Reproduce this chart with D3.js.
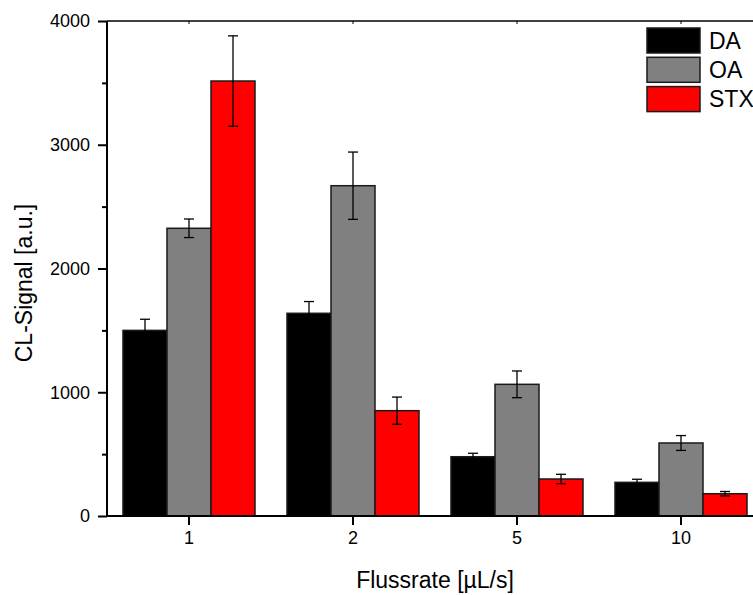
<!DOCTYPE html>
<html>
<head>
<meta charset="utf-8">
<script src="https://cdn.jsdelivr.net/npm/d3@7"></script>
<style>
  body { margin: 0; background: #fff; }
  svg text { font-family: "Liberation Sans", Arial, sans-serif; fill: #000; }
</style>
</head>
<body>
<script>
// data
var categories = ["1", "2", "5", "10"];
var series = ["DA", "OA", "STX"];
var colors = ["#000000", "#808080", "#ff0000"];
var valuesDA = [1500, 1638, 479, 272];
var valuesOA = [2325, 2669, 1064, 590];
var valuesSTX = [3515, 851, 299, 180];
var errorsDA = [90, 95, 28, 25];
var errorsOA = [75, 272, 108, 60];
var errorsSTX = [365, 110, 38, 18];
var yTicks = [0, 1000, 2000, 3000, 4000];
var yMinorTicks = [500, 1500, 2500, 3500];

var values = [valuesDA, valuesOA, valuesSTX];
var errors = [errorsDA, errorsOA, errorsSTX];

// set the dimensions of the graph
var width = 753, height = 595;
var plotLeft = 107, plotRight = 763, plotTop = 21, plotBottom = 516;

var svg = d3.select("body").append("svg")
    .attr("width", width)
    .attr("height", height);

// set the ranges
var x0 = d3.scaleBand().domain(categories).range([plotLeft, plotRight])
    .paddingInner(0.195).paddingOuter(0.0975);
var x1 = d3.scaleBand().domain(series).range([0, x0.bandwidth()]);
var y = d3.scaleLinear().domain([0, 4000]).range([plotBottom, plotTop]);

// flatten into rows for drawing
var rows = [];
categories.forEach(function(c, i) {
  series.forEach(function(s, j) {
    rows.push({cat: c, ser: s, idx: j, value: values[j][i], err: errors[j][i]});
  });
});

// bars
svg.append("g").selectAll("rect")
    .data(rows)
  .enter().append("rect")
    .attr("x", function(d) { return x0(d.cat) + x1(d.ser); })
    .attr("y", function(d) { return y(d.value); })
    .attr("width", x1.bandwidth())
    .attr("height", function(d) { return y(0) - y(d.value); })
    .attr("fill", function(d) { return colors[d.idx]; })
    .attr("stroke", "#1a1a1a")
    .attr("stroke-width", 1.5);

// error bars
var eb = svg.append("g").attr("stroke", "#000").attr("stroke-width", 1.3);
rows.forEach(function(d) {
  var cx = x0(d.cat) + x1(d.ser) + x1.bandwidth() / 2;
  var y1 = y(d.value + d.err), y2 = y(d.value - d.err);
  eb.append("line").attr("x1", cx).attr("x2", cx).attr("y1", y1).attr("y2", y2);
  eb.append("line").attr("x1", cx - 5).attr("x2", cx + 5).attr("y1", y1).attr("y2", y1);
  eb.append("line").attr("x1", cx - 5).attr("x2", cx + 5).attr("y1", y2).attr("y2", y2);
});

// y axis
var yAxis = svg.append("g")
    .attr("transform", "translate(" + plotLeft + ",0)")
    .call(d3.axisLeft(y).tickValues(yTicks).tickSize(9).tickPadding(8).tickFormat(d3.format("d")));
yAxis.select(".domain").remove();
yAxis.selectAll(".tick line").attr("stroke-width", 2);
yAxis.selectAll("text").style("font-size", "18px");

svg.append("g")
    .attr("transform", "translate(" + plotLeft + ",0)")
    .call(d3.axisLeft(y).tickValues(yMinorTicks).tickSize(5).tickFormat(""))
  .call(function(g) { g.select(".domain").remove(); })
  .selectAll(".tick line").attr("stroke-width", 2);

// x axis
var xAxis = svg.append("g")
    .attr("transform", "translate(0," + plotBottom + ")")
    .call(d3.axisBottom(x0).tickSize(9).tickPadding(6));
xAxis.select(".domain").remove();
xAxis.selectAll(".tick line").attr("stroke-width", 2);
xAxis.selectAll("text").style("font-size", "18px");

// top axis ticks (inward)
svg.append("g")
    .attr("transform", "translate(0," + plotTop + ")")
    .call(d3.axisBottom(x0).tickSize(3).tickFormat(""))
  .call(function(g) { g.select(".domain").remove(); });

// frame lines
svg.append("line").attr("x1", plotLeft).attr("x2", plotLeft).attr("y1", plotTop).attr("y2", plotBottom + 1)
    .attr("stroke", "#000").attr("stroke-width", 2);
svg.append("line").attr("x1", plotLeft).attr("x2", width).attr("y1", plotBottom).attr("y2", plotBottom)
    .attr("stroke", "#000").attr("stroke-width", 2);
svg.append("line").attr("x1", plotLeft).attr("x2", width).attr("y1", plotTop).attr("y2", plotTop)
    .attr("stroke", "#000").attr("stroke-width", 1.5);

// axis labels
svg.append("text")
    .attr("x", (plotLeft + plotRight) / 2)
    .attr("y", 588)
    .style("text-anchor", "middle")
    .style("font-size", "23px")
    .text("Flussrate [µL/s]");

svg.append("text")
    .attr("transform", "translate(32,283) rotate(-90)")
    .style("text-anchor", "middle")
    .style("font-size", "23px")
    .text("CL-Signal [a.u.]");

// legend
var legend = svg.append("g").attr("transform", "translate(647,28)");
series.forEach(function(s, i) {
  var g = legend.append("g").attr("transform", "translate(0," + (i * 29.3) + ")");
  g.append("rect")
      .attr("width", 53).attr("height", 25)
      .attr("fill", colors[i])
      .attr("stroke", "#1a1a1a").attr("stroke-width", 1.5);
  g.append("text")
      .attr("x", 62).attr("y", 12.5)
      .attr("dy", "0.36em")
      .style("font-size", "23px")
      .text(s);
});
</script>
</body>
</html>
